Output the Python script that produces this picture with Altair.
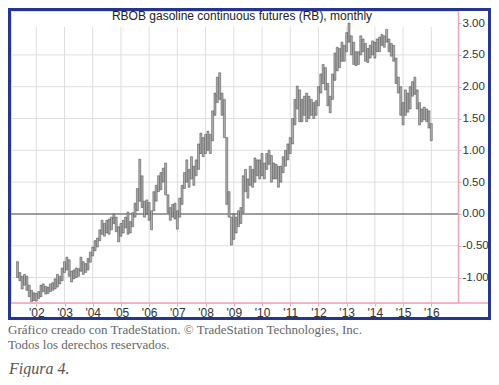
import altair as alt
import pandas as pd

# ---------------- data ----------------
start_year, start_month = 2001, 5   # first monthly bar: May 2001

lo = [
    # 2001 May-Dec
    -1.00, -1.05, -1.18, -1.12, -1.20, -1.30, -1.38, -1.36,
    # 2002
    -1.37, -1.33, -1.30, -1.22, -1.26, -1.25, -1.22, -1.20, -1.18, -1.15, -1.10, -1.05,
    # 2003
    -0.92, -0.88, -0.98, -1.07, -1.02, -1.00, -0.98, -0.90, -0.95, -0.92, -0.88, -0.76,
    # 2004
    -0.66, -0.58, -0.52, -0.42, -0.32, -0.35, -0.30, -0.32, -0.25, -0.15, -0.28, -0.44,
    # 2005
    -0.35, -0.30, -0.22, -0.32, -0.30, -0.20, -0.05, 0.05, 0.20, 0.10, -0.05, 0.00,
    # 2006
    -0.10, -0.25, 0.05, 0.20, 0.35, 0.38, 0.50, 0.30, 0.02, -0.10, -0.05, -0.08,
    # 2007
    -0.24, -0.05, 0.15, 0.40, 0.50, 0.42, 0.55, 0.45, 0.60, 0.70, 0.95, 0.90,
    # 2008
    0.95, 1.00, 0.95, 1.15, 1.55, 1.75, 1.80, 1.55, 1.20, 0.15, -0.05, -0.49,
    # 2009
    -0.40, -0.30, -0.20, -0.15, 0.02, 0.35, 0.25, 0.45, 0.42, 0.50, 0.60, 0.55,
    # 2010
    0.60, 0.55, 0.70, 0.78, 0.50, 0.55, 0.55, 0.42, 0.50, 0.65, 0.75, 0.85,
    # 2011
    0.95, 1.10, 1.40, 1.65, 1.45, 1.45, 1.55, 1.45, 1.50, 1.55, 1.50, 1.55,
    # 2012
    1.70, 1.90, 2.05, 1.95, 1.70, 1.59, 1.80, 2.10, 2.25, 2.30, 2.40, 2.40,
    # 2013
    2.55, 2.70, 2.50, 2.35, 2.33, 2.35, 2.50, 2.55, 2.40, 2.38, 2.45, 2.50,
    # 2014
    2.45, 2.55, 2.55, 2.65, 2.62, 2.70, 2.55, 2.48, 2.40, 2.05, 1.90, 1.55,
    # 2015
    1.40, 1.55, 1.60, 1.65, 1.85, 1.88, 1.65, 1.40, 1.45, 1.48, 1.45, 1.35,
    # 2016 Jan
    1.15,
]

hi = [
    # 2001 May-Dec
    -0.75, -0.92, -0.98, -0.95, -0.98, -1.12, -1.20, -1.24,
    # 2002
    -1.25, -1.22, -1.12, -1.10, -1.14, -1.15, -1.10, -1.08, -1.02, -0.95, -0.98, -0.85,
    # 2003
    -0.75, -0.68, -0.72, -0.90, -0.88, -0.85, -0.86, -0.68, -0.75, -0.78, -0.70, -0.60,
    # 2004
    -0.52, -0.42, -0.38, -0.25, -0.10, -0.15, -0.10, -0.08, -0.05, 0.00, -0.05, -0.20,
    # 2005
    -0.15, -0.10, -0.05, 0.03, -0.12, 0.02, 0.17, 0.40, 0.86, 0.60, 0.20, 0.22,
    # 2006
    0.18, 0.05, 0.35, 0.45, 0.60, 0.65, 0.72, 0.80, 0.30, 0.10, 0.15, 0.17,
    # 2007
    0.05, 0.25, 0.45, 0.65, 0.85, 0.70, 0.90, 0.75, 0.85, 1.10, 1.27, 1.20,
    # 2008
    1.25, 1.30, 1.25, 1.62, 1.90, 2.15, 2.22, 1.90, 1.80, 1.20, 0.35, -0.05,
    # 2009
    0.00, -0.05, 0.05, 0.10, 0.60, 0.70, 0.55, 0.75, 0.70, 0.88, 0.85, 0.85,
    # 2010
    0.95, 0.80, 0.95, 1.00, 0.92, 0.80, 0.78, 0.75, 0.75, 0.90, 1.00, 1.10,
    # 2011
    1.20, 1.50, 1.80, 2.01, 1.95, 1.80, 1.85, 1.90, 1.85, 1.80, 1.75, 1.78,
    # 2012
    2.00, 2.20, 2.35, 2.30, 2.05, 1.85, 2.20, 2.53, 2.62, 2.60, 2.70, 2.65,
    # 2013
    2.85, 3.00, 2.80, 2.70, 2.55, 2.55, 2.80, 2.75, 2.68, 2.60, 2.65, 2.72,
    # 2014
    2.70, 2.75, 2.78, 2.82, 2.80, 2.90, 2.75, 2.68, 2.65, 2.45, 2.15, 2.00,
    # 2015
    1.75, 1.95, 1.90, 2.00, 2.08, 2.15, 1.95, 1.75, 1.65, 1.68, 1.65, 1.62,
    # 2016 Jan
    1.42,
]

y_ticks = [-1.0, -0.5, 0.0, 0.5, 1.0, 1.5, 2.0, 2.5, 3.0]
y_grid = [-1.0, -0.5, 0.5, 1.0, 1.5, 2.0, 2.5]
zero_line = [0.0]
x_ticks = list(range(2002, 2017))

title_text = "RBOB gasoline continuous futures (RB), monthly"
caption1 = "Gráfico creado con TradeStation. © TradeStation Technologies, Inc."
caption2 = "Todos los derechos reservados."
figure_label = "Figura 4."

# ---------------- build ----------------
t = [start_year + (start_month - 1 + i) / 12 for i in range(len(lo))]
df = pd.DataFrame({"t": t, "lo": lo, "hi": hi})

W, H = 447, 292
PINK = "#f3a3b6"
BLUE = "#26358f"
GRID = "#dedede"

xscale = alt.Scale(domain=[2001.281, 2016.769], nice=False, zero=False)
yscale = alt.Scale(domain=[-1.40, 3.19], nice=False, zero=False)

x_axis = alt.Axis(
    values=x_ticks, format="d",
    labelExpr="\"'\" + substring(datum.label, 2, 4)",
    grid=False, domain=False,
    tickColor=PINK, tickSize=3, tickWidth=1,
    labelFont="Liberation Sans", labelFontSize=12, labelColor="#333333",
    labelPadding=1, labelFlush=False,
)
y_axis = alt.Axis(
    orient="right", values=y_ticks, format=".2f", grid=False,
    labelExpr="(datum.value < 0 ? '-' : '') + format(abs(datum.value), '.2f')",
    domainColor=PINK, domainWidth=1.5,
    tickColor=PINK, tickSize=3, tickWidth=1,
    labelFont="Liberation Sans", labelFontSize=11.5, labelColor="#333333",
    labelPadding=1, labelFlush=False,
)

bars = alt.Chart(df).mark_bar(
    width=2, fill="#b0b0b0", stroke="#333333", strokeWidth=0.45
).encode(
    x=alt.X("t:Q", scale=xscale, title=None, axis=x_axis),
    y=alt.Y("lo:Q", scale=yscale, title=None, axis=y_axis),
    y2="hi:Q",
)

hgrid = alt.Chart(pd.DataFrame({"v": y_grid})).mark_rule(
    color=GRID, strokeWidth=1
).encode(
    y=alt.Y("v:Q", scale=yscale, title=None, axis=y_axis),
    x=alt.value(0), x2=alt.value(W),
)

vgrid = alt.Chart(pd.DataFrame({"yr": x_ticks})).mark_rule(
    color=GRID, strokeWidth=1
).encode(
    x=alt.X("yr:Q", scale=xscale, title=None, axis=x_axis),
    y=alt.value(16), y2=alt.value(H),
)

zero = alt.Chart(pd.DataFrame({"v": zero_line})).mark_rule(
    color="#7d7d7d", strokeWidth=1.5
).encode(
    y=alt.Y("v:Q", scale=yscale, title=None, axis=y_axis),
    x=alt.value(0), x2=alt.value(W),
)

bottom_line = alt.Chart(pd.DataFrame({"k": [0]})).mark_rule(
    color=PINK, strokeWidth=1.5
).encode(x=alt.value(-3), x2=alt.value(480), y=alt.value(H))

border = alt.Chart(pd.DataFrame({"k": [0]})).mark_rect(
    fillOpacity=0, stroke=BLUE, strokeWidth=3
).encode(
    x=alt.value(-1.5), x2=alt.value(478.5),
    y=alt.value(-1.5), y2=alt.value(307.5),
)

title = alt.Chart(pd.DataFrame({"s": [title_text]})).mark_text(
    font="Liberation Sans", fontSize=12, color="#222222",
    align="center", baseline="middle",
).encode(x=alt.value(231), y=alt.value(4.5), text="s:N")

cap1 = alt.Chart(pd.DataFrame({"s": [caption1]})).mark_text(
    font="Liberation Serif", fontSize=13, color="#666666",
    align="left", baseline="middle",
).encode(x=alt.value(-3), y=alt.value(318.5), text="s:N")

cap2 = alt.Chart(pd.DataFrame({"s": [caption2]})).mark_text(
    font="Liberation Serif", fontSize=13, color="#666666",
    align="left", baseline="middle",
).encode(x=alt.value(-3), y=alt.value(333.5), text="s:N")

fig = alt.Chart(pd.DataFrame({"s": [figure_label]})).mark_text(
    font="Liberation Serif", fontSize=16, fontStyle="italic", color="#555555",
    align="left", baseline="middle",
).encode(x=alt.value(-2), y=alt.value(357.5), text="s:N")

chart = alt.layer(
    hgrid, vgrid, zero, bars, bottom_line, border, title, cap1, cap2, fig
).properties(
    width=W, height=H,
    autosize=alt.AutoSizeParams(type="none"),
    padding={"left": 3, "top": 3, "right": 33, "bottom": 74},
).configure_view(strokeWidth=0).configure(background="white")

chart.save("out.html", embed_options={"renderer": "svg", "actions": False})
